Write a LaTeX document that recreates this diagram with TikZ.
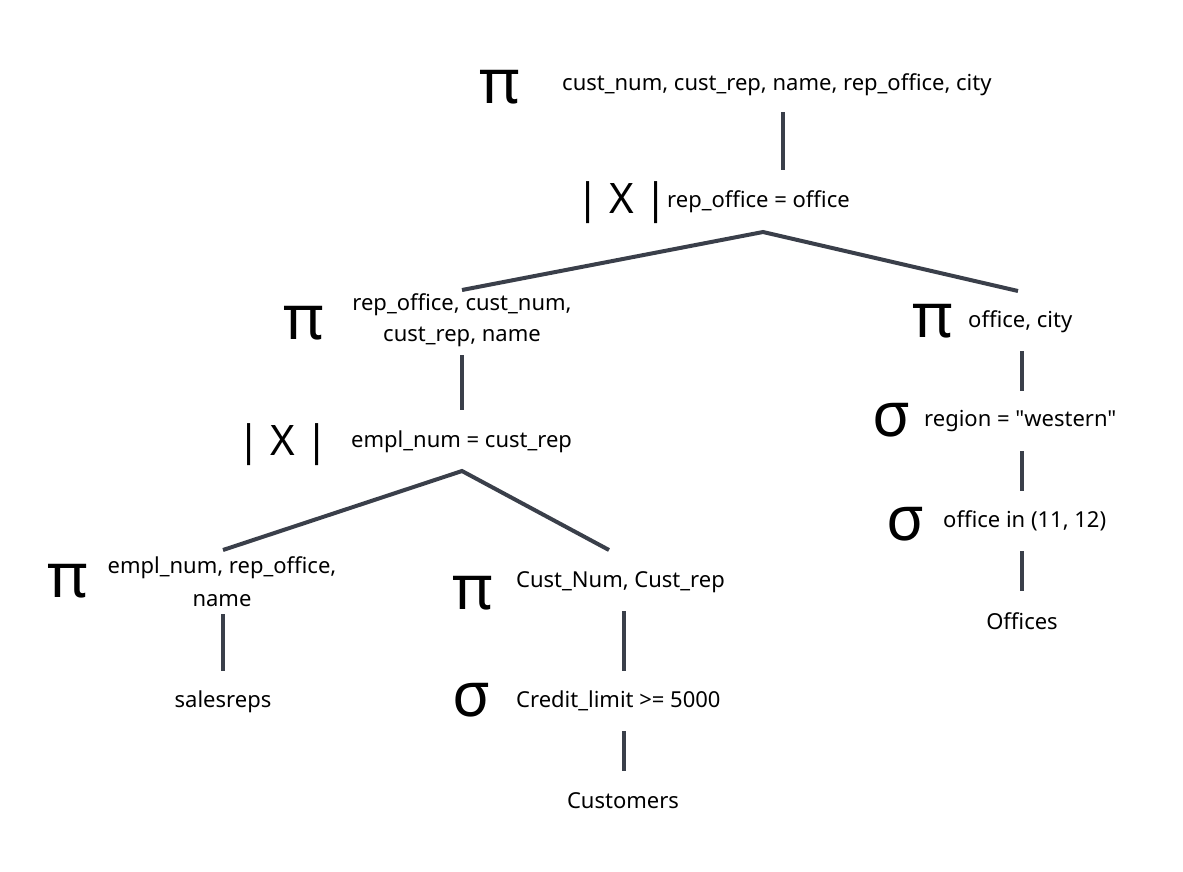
\documentclass[tikz,border=0pt]{standalone}
\usepackage{fontspec}
\setmainfont{Noto Sans}
\newfontfamily\grk{Noto Sans}
\newfontfamily\qf{Noto Sans}[Ligatures=TeXOff]
\definecolor{edgecol}{HTML}{3A3F4A}
\tikzset{
  lbl/.style={inner sep=0pt, font=\fontsize{22}{33}\selectfont, align=center},
  lbll/.style={lbl, anchor=west},
  op/.style={inner sep=0pt, font=\grk\fontsize{62}{62}\selectfont},
  joinop/.style={inner sep=0pt, font=\fontsize{42}{42}\selectfont},
  edge/.style={draw=edgecol, line width=4pt}
}
\newcommand{\jsym}{|\hspace{10pt}X\hspace{10pt}|}
\begin{document}
\begin{tikzpicture}[x=1pt,y=-1pt]
\useasboundingbox (0,0) rectangle (1183,871);
% top projection
\node[op] (p0) at (500,87) {π};
\node[lbll] (t0) at (562,85) {cust\_num, cust\_rep, name, rep\_office, city};
\node[joinop] (j0) at (622,203) {\jsym};
\node[lbll] (tj0) at (667,202) {rep\_office = office};
% left subtree
\node[op] (p1) at (304,323) {π};
\node[lbl] (t1a) at (462,305) {rep\_office, cust\_num,};
\node[lbl] (t1b) at (462,337) {cust\_rep, name};
\node[joinop] (j1) at (283,445) {\jsym};
\node[lbll] (tj1) at (351,442) {empl\_num = cust\_rep};
\node[op] (p2) at (68,581) {π};
\node[lbl] (t2) at (222,582) {empl\_num, rep\_office,\\name};
\node[lbl] (r1) at (223,702) {salesreps};
\node[op] (p3) at (473,593) {π};
\node[lbll] (t3) at (516,582) {Cust\_Num, Cust\_rep};
\node[op] (s1) at (472,700) {σ};
\node[lbll] (ts1) at (516,701) {Credit\_limit >= 5000};
\node[lbl] (r2) at (623,801) {Customers};
% right subtree
\node[op] (p4) at (933,321) {π};
\node[lbll] (t4) at (968,322) {office, city};
\node[op] (s2) at (892,420) {σ};
\node[lbll] (ts2) at (924,421) {\qf region = "western"};
\node[op] (s3) at (906,524) {σ};
\node[lbll] (ts3) at (943,521) {office in (11, 12)};
\node[lbl] (r3) at (1022,621) {Offices};
% connector endpoints
\coordinate (a0) at (783,112); \coordinate (b0) at (783,170);
\coordinate (apex0) at (763,232);
\coordinate (l0) at (462,290); \coordinate (rr0) at (1018,291);
\coordinate (a1) at (462,355); \coordinate (b1) at (462,410);
\coordinate (apex1) at (462,471);
\coordinate (l1) at (223,550); \coordinate (rr1) at (609,550);
\coordinate (a2) at (223,614); \coordinate (b2) at (223,671);
\coordinate (a3) at (624,611); \coordinate (b3) at (624,671);
\coordinate (a4) at (624,731); \coordinate (b4) at (624,771);
\coordinate (a5) at (1022,351); \coordinate (b5) at (1022,391);
\coordinate (a6) at (1022,451); \coordinate (b6) at (1022,491);
\coordinate (a7) at (1022,551); \coordinate (b7) at (1022,591);
\draw[edge] (a0) -- (b0);
\draw[edge] (l0) -- (apex0) -- (rr0);
\draw[edge] (a1) -- (b1);
\draw[edge] (l1) -- (apex1) -- (rr1);
\draw[edge] (a2) -- (b2);
\draw[edge] (a3) -- (b3);
\draw[edge] (a4) -- (b4);
\draw[edge] (a5) -- (b5);
\draw[edge] (a6) -- (b6);
\draw[edge] (a7) -- (b7);
\end{tikzpicture}
\end{document}
